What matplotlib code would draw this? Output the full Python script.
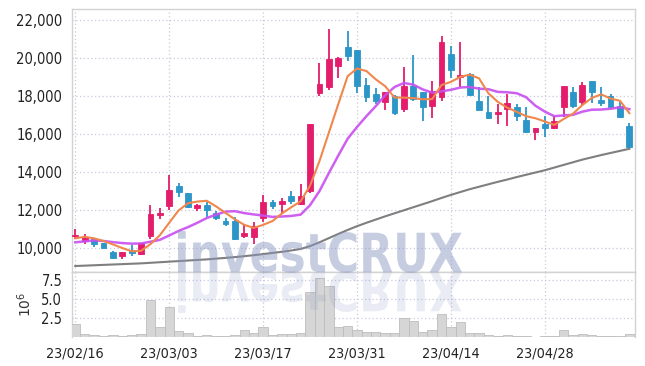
import matplotlib
matplotlib.use('Agg')
import matplotlib.pyplot as plt
import numpy as np
from matplotlib import font_manager
from matplotlib.textpath import TextPath
from matplotlib.patches import PathPatch
from matplotlib.font_manager import FontProperties
from matplotlib.transforms import Affine2D

# ---------------- data ----------------
dates = ['23/02/16', '23/02/17', '23/02/20', '23/02/21', '23/02/22', '23/02/23', '23/02/24',
         '23/02/27', '23/02/28', '23/03/02', '23/03/03', '23/03/06', '23/03/07', '23/03/08',
         '23/03/09', '23/03/10', '23/03/13', '23/03/14', '23/03/15', '23/03/16', '23/03/17',
         '23/03/20', '23/03/21', '23/03/22', '23/03/23', '23/03/24', '23/03/27', '23/03/28',
         '23/03/29', '23/03/30', '23/03/31', '23/04/03', '23/04/04', '23/04/05', '23/04/06',
         '23/04/07', '23/04/10', '23/04/11', '23/04/12', '23/04/13', '23/04/14', '23/04/17',
         '23/04/18', '23/04/19', '23/04/20', '23/04/21', '23/04/24', '23/04/25', '23/04/26',
         '23/04/27', '23/04/28', '23/05/02', '23/05/03', '23/05/04', '23/05/08', '23/05/09',
         '23/05/10', '23/05/11', '23/05/12', '23/05/15']

opens = [10650, 10390, 10470, 10260, 9800, 9560, 9910, 9670, 10620, 11750,
         12240, 13270, 12880, 12090, 12270, 11830, 11440, 11440, 10650, 10600,
         11570, 12400, 12300, 12740, 12320, 13000, 18160, 18510, 19620, 20590,
         20420, 18600, 18120, 17720, 18000, 17320, 18560, 18210, 17500, 17980,
         20230, 18990, 19170, 17750, 17190, 17080, 17330, 17420, 16730, 16130,
         16520, 16310, 17420, 18250, 17720, 18810, 17800, 18020, 17490, 16440]
highs = [11000, 10740, 10500, 10280, 9830, 9800, 10160, 10270, 12250, 12120,
         13850, 13450, 12900, 12320, 12450, 11950, 11560, 11620, 11250, 11350,
         12800, 12530, 12620, 13000, 13400, 16560, 19740, 21540, 20090, 21450,
         20450, 18950, 18420, 18230, 18070, 19530, 20180, 18230, 18780, 21180,
         20650, 20850, 19200, 18510, 18020, 17580, 18100, 17580, 17420, 16330,
         16960, 16960, 18560, 18470, 18760, 18820, 18470, 18110, 17720, 16580]
lows = [10480, 10200, 10070, 9990, 9420, 9400, 9580, 9650, 10500, 11550,
        12000, 12680, 12090, 11950, 11620, 11480, 11180, 10440, 10510, 10210,
        11390, 12060, 11830, 12300, 12270, 12880, 18030, 18330, 18950, 19880,
        18160, 17700, 17580, 17280, 17020, 17190, 17750, 16680, 16880, 17740,
        18980, 18500, 18030, 17250, 16790, 16550, 16440, 16700, 16060, 15680,
        15840, 16280, 16920, 17400, 17480, 17630, 17480, 17400, 16880, 15270]
closes = [10700, 10560, 10200, 10020, 9450, 9780, 9720, 10260, 11780, 11820,
          13050, 12970, 12180, 12250, 12000, 11570, 11270, 10460, 10810, 11180,
          12400, 12230, 12470, 12480, 12740, 16540, 18650, 19970, 20000, 20140,
          18560, 17980, 17750, 18210, 17140, 18550, 17830, 17450, 18280, 20850,
          19390, 19130, 18070, 17280, 16870, 17160, 17630, 16980, 16130, 16310,
          16310, 16710, 18550, 17510, 18600, 18200, 17660, 17420, 16930, 15350]
volumes_m = [1.67, 0.39, 0.22, 0.10, 0.22, 0.10, 0.20, 0.35, 4.87, 1.27,
             3.90, 0.79, 0.53, 0.15, 0.25, 0.12, 0.12, 0.25, 0.88, 0.53,
             1.32, 0.25, 0.39, 0.39, 0.53, 5.88, 7.70, 6.70, 1.36, 1.45,
             0.92, 0.66, 0.66, 0.57, 0.57, 2.46, 2.10, 0.66, 0.92, 2.98,
             1.32, 1.93, 0.53, 0.48, 0.25, 0.12, 0.30, 0.15, 0.08, 0.05,
             0.08, 0.08, 0.88, 0.20, 0.35, 0.20, 0.08, 0.08, 0.08, 0.39]
ma_short = [10510, 10590, 10510, 10370, 10190, 10000, 9830, 9850, 10200, 10670,
            11330, 11980, 12360, 12450, 12490, 12190, 11850, 11510, 11220, 11060,
            11220, 11420, 11820, 12150, 12460, 13290, 14580, 16080, 17580, 19060,
            19460, 19330, 18890, 18530, 17930, 17930, 17900, 17840, 17850, 18590,
            18760, 19020, 19140, 18940, 18150, 17700, 17400, 17180, 16950, 16840,
            16670, 16490, 16800, 17080, 17540, 17910, 18100, 17880, 17760, 17110]
ma_mid = [10300, 10350, 10400, 10370, 10310, 10260, 10230, 10240, 10330, 10430,
          10660, 10900, 11100, 11330, 11580, 11760, 11920, 11940, 11840, 11770,
          11710, 11640, 11660, 11690, 11760, 12260, 13000, 13950, 14870, 15760,
          16380, 16950, 17480, 18050, 18490, 18700, 18610, 18360, 18190, 18260,
          18340, 18460, 18490, 18400, 18370, 18230, 18210, 18160, 17950, 17500,
          17190, 16950, 16990, 17020, 17190, 17290, 17300, 17340, 17420, 17320]
ma_long = [9050, 9070, 9090, 9110, 9130, 9150, 9170, 9190, 9220, 9250,
           9280, 9310, 9340, 9370, 9400, 9440, 9480, 9520, 9570, 9620,
           9680, 9740, 9800, 9870, 9950, 10100, 10300, 10520, 10740, 10950,
           11150, 11330, 11500, 11670, 11830, 11990, 12150, 12310, 12470, 12640,
           12800, 12950, 13100, 13230, 13360, 13490, 13610, 13740, 13860, 13980,
           14100, 14240, 14380, 14520, 14660, 14780, 14900, 15010, 15120, 15230]
price_ticks = [10000, 12000, 14000, 16000, 18000, 20000, 22000]
vol_ticks = [2.5, 5.0, 7.5]
tick_every = 10

# ---------------- fonts ----------------
cands = []
for f in font_manager.fontManager.ttflist:
    fn = f.fname.lower()
    if ('narrow' in fn or 'condensed' in fn) and 'bold' not in fn and 'italic' not in fn \
            and 'oblique' not in fn and 'light' not in fn and 'mono' not in fn:
        cands.append(f.fname)
pref = ['liberationsansnarrow-regular', 'dejavusanscondensed.', 'robotocondensed-regular',
        'opensans_condensed', 'opensans-condensed']
tick_file = None
for p in pref:
    for fn in cands:
        if p in fn.lower().replace(' ', ''):
            tick_file = fn
            break
    if tick_file is not None:
        break
if tick_file is None and cands:
    tick_file = sorted(cands)[0]


def tick_font(size):
    if tick_file is not None:
        return FontProperties(fname=tick_file, size=size)
    return FontProperties(family='Roboto', size=size - 1)


plt.rcParams['font.family'] = ['DejaVu Sans']

UP = '#e31c6b'
DOWN = '#2c96c8'
GRID = '#c9c9df'
SPINE = '#d2d2d2'
TXT = '#222222'

W, H = 645, 366
fig = plt.figure(figsize=(W / 100, H / 100), dpi=100)
fig.patch.set_facecolor('white')
L, R, T, MB, VB = 72, 635, 9, 272, 337
ax = fig.add_axes([L / W, 1 - MB / H, (R - L) / W, (MB - T) / H])
axv = fig.add_axes([L / W, 1 - VB / H, (R - L) / W, (VB - MB) / H], sharex=ax)

x = np.arange(len(closes))
o = np.array(opens, float)
c = np.array(closes, float)
hi = np.array(highs, float)
lo = np.array(lows, float)
up = c >= o
cols = np.where(up, UP, DOWN)
bw = 0.62
bottoms = np.minimum(o, c)
heights = np.maximum(np.abs(c - o), 50)

ax.vlines(x, lo, hi, colors=cols, linewidth=1.3, zorder=3)
ax.bar(x, heights, bottom=bottoms, width=bw, color=cols, edgecolor=cols, linewidth=0.6, zorder=4)

ax.plot(x, ma_long, color='#7f7f7f', linewidth=1.5, zorder=5)
ax.plot(x, ma_mid, color='#c94ff0', linewidth=1.8, alpha=0.9, zorder=5)
ax.plot(x, ma_short, color='#f0874c', linewidth=1.5, zorder=6)

ax.set_ylim(8735, 22600)
ax.set_xlim(-0.35, 59.6)
ax.set_yticks(price_ticks)
ax.set_yticklabels([f'{v:,}' for v in price_ticks])

axv.bar(x, volumes_m, width=1.0, color='#d6d6d6', edgecolor='#bdbdbd', linewidth=0.6, zorder=3)
axv.set_ylim(0, 8.55)
axv.set_yticks(vol_ticks)
axv.set_yticklabels([f'{v:.1f}' for v in vol_ticks])
axv.set_ylabel('$10^{6}$', fontsize=10, color='#333333', family='DejaVu Serif', labelpad=5)

xt = list(range(0, len(dates), tick_every))
axv.set_xticks(xt)
axv.set_xticklabels([dates[i] for i in xt])
ax.tick_params(axis='x', labelbottom=False)

for a in (ax, axv):
    a.set_facecolor('white')
    a.set_axisbelow(True)
    a.grid(True, color=GRID, linestyle=(0, (1, 2)), linewidth=0.9)
    a.tick_params(length=0, colors=TXT, pad=7)
    for lab in a.get_yticklabels():
        lab.set_fontproperties(tick_font(10.5))
        lab.set_color(TXT)
    for lab in a.get_xticklabels():
        lab.set_fontproperties(tick_font(10.3))
        lab.set_color(TXT)
    for s in a.spines.values():
        s.set_color(SPINE)
        s.set_linewidth(1.0)
axv.spines['bottom'].set_visible(False)
ax.spines['bottom'].set_color('#c4c4c4')

# ---------------- watermark ----------------
fp = FontProperties(family='DejaVu Sans', weight='bold')
tp = TextPath((0, 0), 'investCRUX', size=1, prop=fp)
ext = tp.get_extents()
capH = TextPath((0, 0), 'C', size=1, prop=fp).get_extents().y1
x0, x1, base, cap_px = 178, 462, 272, 40
sx = (x1 - x0) / ext.width
sy = cap_px / capH
tr_main = Affine2D().translate(-ext.x0, 0).scale(sx / W, sy / H).translate(x0 / W, (H - base) / H) + fig.transFigure
tr_refl = Affine2D().translate(-ext.x0, 0).scale(sx / W, -sy / H).translate(x0 / W, (H - base) / H) + fig.transFigure
fig.add_artist(PathPatch(tp, transform=tr_main, facecolor='#8a97c2', edgecolor='none', alpha=0.48, zorder=10))
fig.add_artist(PathPatch(tp, transform=tr_refl, facecolor='#8a97c2', edgecolor='none', alpha=0.18, zorder=10))

fig.savefig('out.png', dpi=100, facecolor='white')
